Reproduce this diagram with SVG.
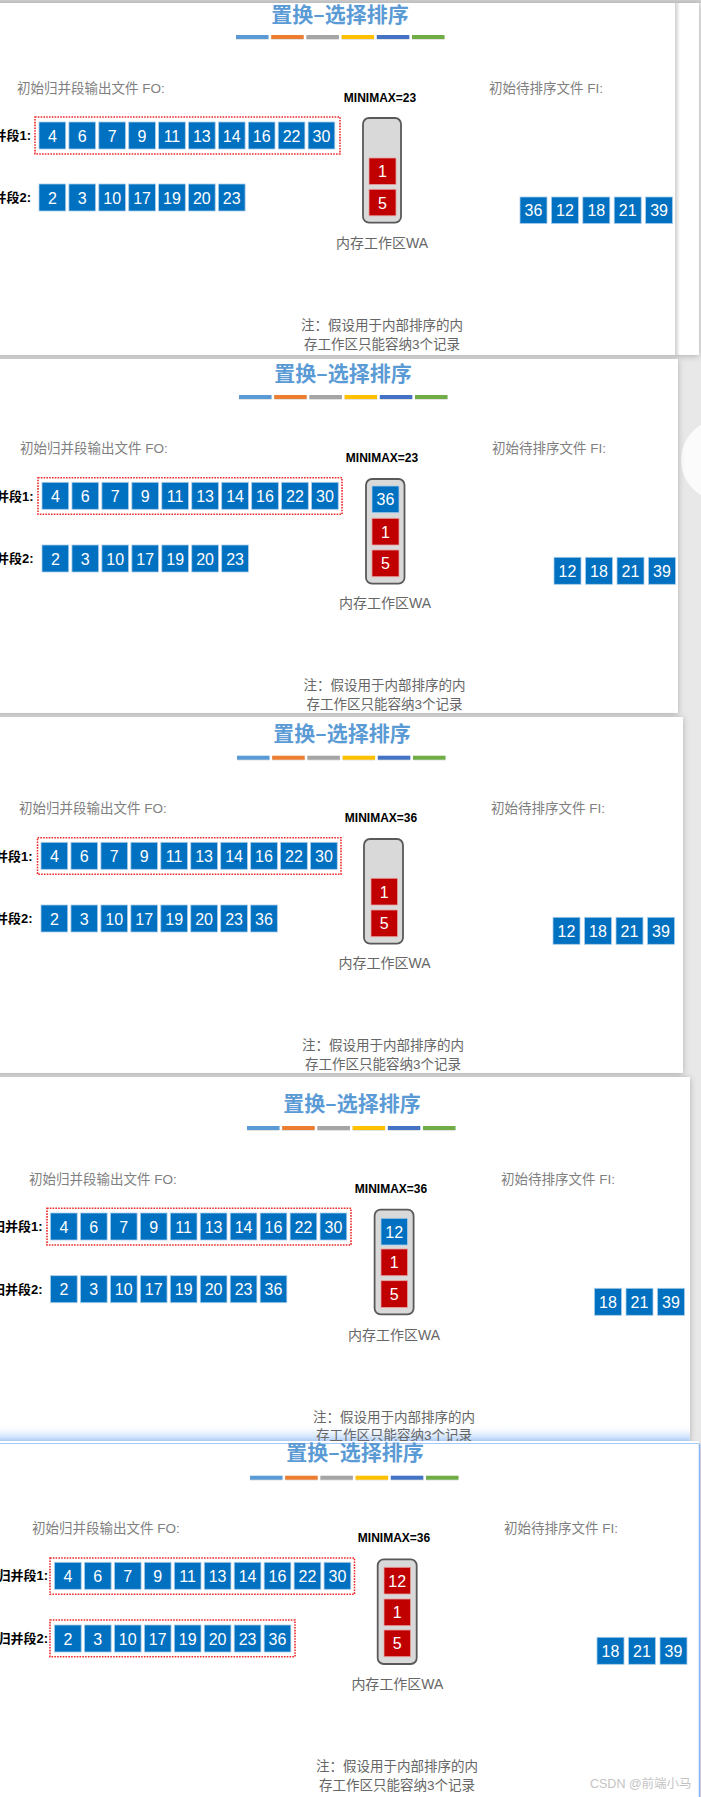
<svg xmlns="http://www.w3.org/2000/svg" width="701" height="1797" viewBox="0 0 701 1797">
<style>
.pnl{fill:#ffffff;filter:url(#sh)}
.t{font-family:"Noto Sans CJK SC","Noto Sans",sans-serif;font-weight:700;font-size:21px;fill:#5b9bd5;text-anchor:middle}
.g{font-family:"Liberation Sans","Noto Sans CJK SC",sans-serif;font-size:13.5px;fill:#7f7f7f}
.gc{font-family:"Liberation Sans","Noto Sans CJK SC",sans-serif;font-size:13.5px;fill:#666666;text-anchor:middle}
.mm{font-family:"Liberation Sans",sans-serif;font-weight:700;font-size:12px;fill:#000;text-anchor:middle}
.lab{font-family:"Liberation Sans","Noto Sans CJK SC",sans-serif;font-weight:700;font-size:13px;fill:#000;text-anchor:end}
.b{fill:#0070c0;stroke:#a9cdea;stroke-width:0.8}
.r{fill:#c00000;stroke:#e8a0a0;stroke-width:0.8}
.n{font-family:"Liberation Sans",sans-serif;font-size:16px;fill:#fff;text-anchor:middle}
.dot{fill:none;stroke:#ee2a2a;stroke-width:1.6;stroke-dasharray:1.6 1.2}
.wa{fill:#d9d9d9;stroke:#595959;stroke-width:1.8}
.wm{font-family:"Liberation Sans","Noto Sans CJK SC",sans-serif;font-size:12.5px;fill:#c4c4c4}
</style>
<defs>
<filter id="sh" x="-5%" y="-5%" width="110%" height="110%"><feDropShadow dx="0" dy="1" stdDeviation="3" flood-color="#000" flood-opacity="0.25"/></filter>
<linearGradient id="blueband" x1="0" y1="0" x2="0" y2="1"><stop offset="0" stop-color="#ffffff" stop-opacity="0"/><stop offset="1" stop-color="#9ec4fa"/></linearGradient>
<linearGradient id="vsh" x1="0" y1="0" x2="1" y2="0"><stop offset="0" stop-color="#cfcfcf"/><stop offset="1" stop-color="#ffffff"/></linearGradient>
<g id="bars">
<rect x="0" y="0.8" width="32.5" height="4" fill="#bbbbbb" opacity="0.5"/><rect x="0" y="0" width="32.5" height="4" fill="#5b9bd5"/>
<rect x="35.2" y="0.8" width="32.5" height="4" fill="#bbbbbb" opacity="0.5"/><rect x="35.2" y="0" width="32.5" height="4" fill="#ed7d31"/>
<rect x="70.4" y="0.8" width="32.5" height="4" fill="#bbbbbb" opacity="0.5"/><rect x="70.4" y="0" width="32.5" height="4" fill="#a5a5a5"/>
<rect x="105.6" y="0.8" width="32.5" height="4" fill="#bbbbbb" opacity="0.5"/><rect x="105.6" y="0" width="32.5" height="4" fill="#ffc000"/>
<rect x="140.8" y="0.8" width="32.5" height="4" fill="#bbbbbb" opacity="0.5"/><rect x="140.8" y="0" width="32.5" height="4" fill="#4472c4"/>
<rect x="176" y="0.8" width="32.5" height="4" fill="#bbbbbb" opacity="0.5"/><rect x="176" y="0" width="32.5" height="4" fill="#70ad47"/>
</g>
</defs>
<rect width="701" height="1797" fill="#e8e8e8"/>
<circle cx="722" cy="460" r="41" fill="#fbfbfb"/>
<!-- panel backgrounds -->
<rect x="0" y="0" width="701" height="3" fill="#cfcfcf"/>
<rect class="pnl" x="-10" y="3" width="709" height="352"/>
<rect x="675" y="3" width="5" height="352" fill="url(#vsh)"/>
<rect class="pnl" x="-10" y="359" width="688" height="354"/>
<rect class="pnl" x="-10" y="717" width="693" height="356"/>
<rect class="pnl" x="-10" y="1077" width="700" height="364"/>
<rect x="0" y="1424" width="690" height="19" fill="url(#blueband)"/>
<rect class="pnl" x="-10" y="1444" width="709" height="360"/>
<line x1="699.5" y1="1444" x2="699.5" y2="1797" stroke="#8ab4f8" stroke-width="1.5"/>

<!-- ================= PANEL 1 ================= -->
<g id="panel1">
<text class="t" x="340" y="22">置换–选择排序</text>
<use href="#bars" x="236" y="35"/>
<text class="g" x="17" y="93">初始归并段输出文件 FO:</text>
<text class="g" x="489" y="93">初始待排序文件 FI:</text>
<text class="mm" x="380" y="102">MINIMAX=23</text>
<text class="lab" x="31" y="140">归并段1:</text>
<text class="lab" x="31" y="202">归并段2:</text>
<rect class="dot" x="35" y="117" width="305" height="37"/>
<g id="p1r1">
<g id="p1a1" transform="translate(39,122)"><rect class="b" width="26.7" height="27"/><text class="n" x="13.35" y="19.5">4</text></g>
<g id="p1a2" transform="translate(68.9,122)"><rect class="b" width="26.7" height="27"/><text class="n" x="13.35" y="19.5">6</text></g>
<g id="p1a3" transform="translate(98.8,122)"><rect class="b" width="26.7" height="27"/><text class="n" x="13.35" y="19.5">7</text></g>
<g id="p1a4" transform="translate(128.7,122)"><rect class="b" width="26.7" height="27"/><text class="n" x="13.35" y="19.5">9</text></g>
<g id="p1a5" transform="translate(158.6,122)"><rect class="b" width="26.7" height="27"/><text class="n" x="13.35" y="19.5">11</text></g>
<g id="p1a6" transform="translate(188.5,122)"><rect class="b" width="26.7" height="27"/><text class="n" x="13.35" y="19.5">13</text></g>
<g id="p1a7" transform="translate(218.4,122)"><rect class="b" width="26.7" height="27"/><text class="n" x="13.35" y="19.5">14</text></g>
<g id="p1a8" transform="translate(248.3,122)"><rect class="b" width="26.7" height="27"/><text class="n" x="13.35" y="19.5">16</text></g>
<g id="p1a9" transform="translate(278.2,122)"><rect class="b" width="26.7" height="27"/><text class="n" x="13.35" y="19.5">22</text></g>
<g id="p1a10" transform="translate(308.1,122)"><rect class="b" width="26.7" height="27"/><text class="n" x="13.35" y="19.5">30</text></g>
</g>
<g id="p1r2">
<g id="p1b1" transform="translate(39,184)"><rect class="b" width="26.7" height="27"/><text class="n" x="13.35" y="19.5">2</text></g>
<g id="p1b2" transform="translate(68.9,184)"><rect class="b" width="26.7" height="27"/><text class="n" x="13.35" y="19.5">3</text></g>
<g id="p1b3" transform="translate(98.8,184)"><rect class="b" width="26.7" height="27"/><text class="n" x="13.35" y="19.5">10</text></g>
<g id="p1b4" transform="translate(128.7,184)"><rect class="b" width="26.7" height="27"/><text class="n" x="13.35" y="19.5">17</text></g>
<g id="p1b5" transform="translate(158.6,184)"><rect class="b" width="26.7" height="27"/><text class="n" x="13.35" y="19.5">19</text></g>
<g id="p1b6" transform="translate(188.5,184)"><rect class="b" width="26.7" height="27"/><text class="n" x="13.35" y="19.5">20</text></g>
<g id="p1b7" transform="translate(218.4,184)"><rect class="b" width="26.7" height="27"/><text class="n" x="13.35" y="19.5">23</text></g>
</g>
<g id="p1wa">
<rect class="wa" x="363" y="118" width="38" height="104.7" rx="6"/>
<g id="p1w2" transform="translate(369,158)"><rect class="r" width="27" height="26.5"/><text class="n" x="13.5" y="19.3">1</text></g>
<g id="p1w3" transform="translate(369,189.3)"><rect class="r" width="27" height="26.5"/><text class="n" x="13.5" y="19.3">5</text></g>
</g>
<text class="gc" x="382" y="248" style="font-size:14px">内存工作区WA</text>
<g id="p1fi">
<g id="p1f1" transform="translate(520,197)"><rect class="b" width="27" height="26.5"/><text class="n" x="13.5" y="19.3">36</text></g>
<g id="p1f2" transform="translate(551.4,197)"><rect class="b" width="27" height="26.5"/><text class="n" x="13.5" y="19.3">12</text></g>
<g id="p1f3" transform="translate(582.8,197)"><rect class="b" width="27" height="26.5"/><text class="n" x="13.5" y="19.3">18</text></g>
<g id="p1f4" transform="translate(614.2,197)"><rect class="b" width="27" height="26.5"/><text class="n" x="13.5" y="19.3">21</text></g>
<g id="p1f5" transform="translate(645.6,197)"><rect class="b" width="27" height="26.5"/><text class="n" x="13.5" y="19.3">39</text></g>
</g>
<text class="gc" x="382" y="330">注：假设用于内部排序的内</text>
<text class="gc" x="382" y="349">存工作区只能容纳3个记录</text>
</g>

<!-- ================= PANEL 2 ================= -->
<g id="panel2">
<text class="t" x="343" y="381">置换–选择排序</text>
<use href="#bars" x="239" y="395"/>
<text class="g" x="20" y="453">初始归并段输出文件 FO:</text>
<text class="g" x="492" y="453">初始待排序文件 FI:</text>
<text class="mm" x="382" y="462">MINIMAX=23</text>
<text class="lab" x="33.5" y="500.5">归并段1:</text>
<text class="lab" x="33.5" y="563">归并段2:</text>
<rect class="dot" x="38" y="477.7" width="304" height="36.6"/>
<g id="p2r1">
<g id="p2a1" transform="translate(42,482.3)"><rect class="b" width="26.7" height="27"/><text class="n" x="13.35" y="19.5">4</text></g>
<g id="p2a2" transform="translate(71.95,482.3)"><rect class="b" width="26.7" height="27"/><text class="n" x="13.35" y="19.5">6</text></g>
<g id="p2a3" transform="translate(101.9,482.3)"><rect class="b" width="26.7" height="27"/><text class="n" x="13.35" y="19.5">7</text></g>
<g id="p2a4" transform="translate(131.85,482.3)"><rect class="b" width="26.7" height="27"/><text class="n" x="13.35" y="19.5">9</text></g>
<g id="p2a5" transform="translate(161.8,482.3)"><rect class="b" width="26.7" height="27"/><text class="n" x="13.35" y="19.5">11</text></g>
<g id="p2a6" transform="translate(191.75,482.3)"><rect class="b" width="26.7" height="27"/><text class="n" x="13.35" y="19.5">13</text></g>
<g id="p2a7" transform="translate(221.7,482.3)"><rect class="b" width="26.7" height="27"/><text class="n" x="13.35" y="19.5">14</text></g>
<g id="p2a8" transform="translate(251.65,482.3)"><rect class="b" width="26.7" height="27"/><text class="n" x="13.35" y="19.5">16</text></g>
<g id="p2a9" transform="translate(281.6,482.3)"><rect class="b" width="26.7" height="27"/><text class="n" x="13.35" y="19.5">22</text></g>
<g id="p2a10" transform="translate(311.55,482.3)"><rect class="b" width="26.7" height="27"/><text class="n" x="13.35" y="19.5">30</text></g>
</g>
<g id="p2r2">
<g id="p2b1" transform="translate(42,545)"><rect class="b" width="26.7" height="27"/><text class="n" x="13.35" y="19.5">2</text></g>
<g id="p2b2" transform="translate(71.95,545)"><rect class="b" width="26.7" height="27"/><text class="n" x="13.35" y="19.5">3</text></g>
<g id="p2b3" transform="translate(101.9,545)"><rect class="b" width="26.7" height="27"/><text class="n" x="13.35" y="19.5">10</text></g>
<g id="p2b4" transform="translate(131.85,545)"><rect class="b" width="26.7" height="27"/><text class="n" x="13.35" y="19.5">17</text></g>
<g id="p2b5" transform="translate(161.8,545)"><rect class="b" width="26.7" height="27"/><text class="n" x="13.35" y="19.5">19</text></g>
<g id="p2b6" transform="translate(191.75,545)"><rect class="b" width="26.7" height="27"/><text class="n" x="13.35" y="19.5">20</text></g>
<g id="p2b7" transform="translate(221.7,545)"><rect class="b" width="26.7" height="27"/><text class="n" x="13.35" y="19.5">23</text></g>
</g>
<g id="p2wa">
<rect class="wa" x="366" y="479" width="38.5" height="104.7" rx="6"/>
<g id="p2w1" transform="translate(372,486)"><rect class="b" width="27" height="26.7"/><text class="n" x="13.5" y="19.3">36</text></g>
<g id="p2w2" transform="translate(372,518.3)"><rect class="r" width="27" height="26.7"/><text class="n" x="13.5" y="19.3">1</text></g>
<g id="p2w3" transform="translate(372,550)"><rect class="r" width="27" height="26.7"/><text class="n" x="13.5" y="19.3">5</text></g>
</g>
<text class="gc" x="385" y="608" style="font-size:14px">内存工作区WA</text>
<g id="p2fi">
<g id="p2f1" transform="translate(554,557.3)"><rect class="b" width="27" height="27"/><text class="n" x="13.5" y="19.5">12</text></g>
<g id="p2f2" transform="translate(585.5,557.3)"><rect class="b" width="27" height="27"/><text class="n" x="13.5" y="19.5">18</text></g>
<g id="p2f3" transform="translate(617,557.3)"><rect class="b" width="27" height="27"/><text class="n" x="13.5" y="19.5">21</text></g>
<g id="p2f4" transform="translate(648.5,557.3)"><rect class="b" width="27" height="27"/><text class="n" x="13.5" y="19.5">39</text></g>
</g>
<text class="gc" x="384.5" y="690">注：假设用于内部排序的内</text>
<text class="gc" x="384.5" y="709">存工作区只能容纳3个记录</text>
</g>

<!-- ================= PANEL 3 ================= -->
<g id="panel3">
<text class="t" x="342" y="741">置换–选择排序</text>
<use href="#bars" x="237" y="755.7"/>
<text class="g" x="19" y="813">初始归并段输出文件 FO:</text>
<text class="g" x="491" y="813">初始待排序文件 FI:</text>
<text class="mm" x="381" y="821.7">MINIMAX=36</text>
<text class="lab" x="32.6" y="860.5">归并段1:</text>
<text class="lab" x="32.6" y="923">归并段2:</text>
<rect class="dot" x="37.5" y="837.7" width="303.5" height="36.6"/>
<g id="p3r1">
<g id="p3a1" transform="translate(41,842.3)"><rect class="b" width="26.7" height="27"/><text class="n" x="13.35" y="19.5">4</text></g>
<g id="p3a2" transform="translate(70.95,842.3)"><rect class="b" width="26.7" height="27"/><text class="n" x="13.35" y="19.5">6</text></g>
<g id="p3a3" transform="translate(100.9,842.3)"><rect class="b" width="26.7" height="27"/><text class="n" x="13.35" y="19.5">7</text></g>
<g id="p3a4" transform="translate(130.85,842.3)"><rect class="b" width="26.7" height="27"/><text class="n" x="13.35" y="19.5">9</text></g>
<g id="p3a5" transform="translate(160.8,842.3)"><rect class="b" width="26.7" height="27"/><text class="n" x="13.35" y="19.5">11</text></g>
<g id="p3a6" transform="translate(190.75,842.3)"><rect class="b" width="26.7" height="27"/><text class="n" x="13.35" y="19.5">13</text></g>
<g id="p3a7" transform="translate(220.7,842.3)"><rect class="b" width="26.7" height="27"/><text class="n" x="13.35" y="19.5">14</text></g>
<g id="p3a8" transform="translate(250.65,842.3)"><rect class="b" width="26.7" height="27"/><text class="n" x="13.35" y="19.5">16</text></g>
<g id="p3a9" transform="translate(280.6,842.3)"><rect class="b" width="26.7" height="27"/><text class="n" x="13.35" y="19.5">22</text></g>
<g id="p3a10" transform="translate(310.55,842.3)"><rect class="b" width="26.7" height="27"/><text class="n" x="13.35" y="19.5">30</text></g>
</g>
<g id="p3r2">
<g id="p3b1" transform="translate(41,905)"><rect class="b" width="26.7" height="27"/><text class="n" x="13.35" y="19.5">2</text></g>
<g id="p3b2" transform="translate(70.95,905)"><rect class="b" width="26.7" height="27"/><text class="n" x="13.35" y="19.5">3</text></g>
<g id="p3b3" transform="translate(100.9,905)"><rect class="b" width="26.7" height="27"/><text class="n" x="13.35" y="19.5">10</text></g>
<g id="p3b4" transform="translate(130.85,905)"><rect class="b" width="26.7" height="27"/><text class="n" x="13.35" y="19.5">17</text></g>
<g id="p3b5" transform="translate(160.8,905)"><rect class="b" width="26.7" height="27"/><text class="n" x="13.35" y="19.5">19</text></g>
<g id="p3b6" transform="translate(190.75,905)"><rect class="b" width="26.7" height="27"/><text class="n" x="13.35" y="19.5">20</text></g>
<g id="p3b7" transform="translate(220.7,905)"><rect class="b" width="26.7" height="27"/><text class="n" x="13.35" y="19.5">23</text></g>
<g id="p3b8" transform="translate(250.65,905)"><rect class="b" width="26.7" height="27"/><text class="n" x="13.35" y="19.5">36</text></g>
</g>
<g id="p3wa">
<rect class="wa" x="364" y="839" width="39" height="104.7" rx="6"/>
<g id="p3w2" transform="translate(371,878.3)"><rect class="r" width="26.5" height="26.7"/><text class="n" x="13.25" y="19.3">1</text></g>
<g id="p3w3" transform="translate(371,910)"><rect class="r" width="26.5" height="26.7"/><text class="n" x="13.25" y="19.3">5</text></g>
</g>
<text class="gc" x="384.5" y="968" style="font-size:14px">内存工作区WA</text>
<g id="p3fi">
<g id="p3f1" transform="translate(553,917.3)"><rect class="b" width="27" height="27"/><text class="n" x="13.5" y="19.5">12</text></g>
<g id="p3f2" transform="translate(584.5,917.3)"><rect class="b" width="27" height="27"/><text class="n" x="13.5" y="19.5">18</text></g>
<g id="p3f3" transform="translate(616,917.3)"><rect class="b" width="27" height="27"/><text class="n" x="13.5" y="19.5">21</text></g>
<g id="p3f4" transform="translate(647.5,917.3)"><rect class="b" width="27" height="27"/><text class="n" x="13.5" y="19.5">39</text></g>
</g>
<text class="gc" x="383" y="1050">注：假设用于内部排序的内</text>
<text class="gc" x="383" y="1069">存工作区只能容纳3个记录</text>
</g>

<!-- ================= PANEL 4 ================= -->
<g id="panel4">
<text class="t" x="352" y="1111">置换–选择排序</text>
<use href="#bars" x="247" y="1126"/>
<text class="g" x="29" y="1184">初始归并段输出文件 FO:</text>
<text class="g" x="501" y="1184">初始待排序文件 FI:</text>
<text class="mm" x="391" y="1192.7">MINIMAX=36</text>
<text class="lab" x="42.5" y="1231">归并段1:</text>
<text class="lab" x="42.5" y="1293.7">归并段2:</text>
<rect class="dot" x="47" y="1208.3" width="304" height="36.7"/>
<g id="p4r1">
<g id="p4a1" transform="translate(50.5,1213)"><rect class="b" width="26.7" height="27"/><text class="n" x="13.35" y="19.5">4</text></g>
<g id="p4a2" transform="translate(80.45,1213)"><rect class="b" width="26.7" height="27"/><text class="n" x="13.35" y="19.5">6</text></g>
<g id="p4a3" transform="translate(110.4,1213)"><rect class="b" width="26.7" height="27"/><text class="n" x="13.35" y="19.5">7</text></g>
<g id="p4a4" transform="translate(140.35,1213)"><rect class="b" width="26.7" height="27"/><text class="n" x="13.35" y="19.5">9</text></g>
<g id="p4a5" transform="translate(170.3,1213)"><rect class="b" width="26.7" height="27"/><text class="n" x="13.35" y="19.5">11</text></g>
<g id="p4a6" transform="translate(200.25,1213)"><rect class="b" width="26.7" height="27"/><text class="n" x="13.35" y="19.5">13</text></g>
<g id="p4a7" transform="translate(230.2,1213)"><rect class="b" width="26.7" height="27"/><text class="n" x="13.35" y="19.5">14</text></g>
<g id="p4a8" transform="translate(260.15,1213)"><rect class="b" width="26.7" height="27"/><text class="n" x="13.35" y="19.5">16</text></g>
<g id="p4a9" transform="translate(290.1,1213)"><rect class="b" width="26.7" height="27"/><text class="n" x="13.35" y="19.5">22</text></g>
<g id="p4a10" transform="translate(320.05,1213)"><rect class="b" width="26.7" height="27"/><text class="n" x="13.35" y="19.5">30</text></g>
</g>
<g id="p4r2">
<g id="p4b1" transform="translate(50.5,1275.7)"><rect class="b" width="26.7" height="27"/><text class="n" x="13.35" y="19.5">2</text></g>
<g id="p4b2" transform="translate(80.45,1275.7)"><rect class="b" width="26.7" height="27"/><text class="n" x="13.35" y="19.5">3</text></g>
<g id="p4b3" transform="translate(110.4,1275.7)"><rect class="b" width="26.7" height="27"/><text class="n" x="13.35" y="19.5">10</text></g>
<g id="p4b4" transform="translate(140.35,1275.7)"><rect class="b" width="26.7" height="27"/><text class="n" x="13.35" y="19.5">17</text></g>
<g id="p4b5" transform="translate(170.3,1275.7)"><rect class="b" width="26.7" height="27"/><text class="n" x="13.35" y="19.5">19</text></g>
<g id="p4b6" transform="translate(200.25,1275.7)"><rect class="b" width="26.7" height="27"/><text class="n" x="13.35" y="19.5">20</text></g>
<g id="p4b7" transform="translate(230.2,1275.7)"><rect class="b" width="26.7" height="27"/><text class="n" x="13.35" y="19.5">23</text></g>
<g id="p4b8" transform="translate(260.15,1275.7)"><rect class="b" width="26.7" height="27"/><text class="n" x="13.35" y="19.5">36</text></g>
</g>
<g id="p4wa">
<rect class="wa" x="374.6" y="1209.7" width="39" height="104.6" rx="6"/>
<g id="p4w1" transform="translate(381,1218.3)"><rect class="b" width="26.5" height="26.7"/><text class="n" x="13.25" y="19.3">12</text></g>
<g id="p4w2" transform="translate(381,1249)"><rect class="r" width="26.5" height="26.7"/><text class="n" x="13.25" y="19.3">1</text></g>
<g id="p4w3" transform="translate(381,1280.7)"><rect class="r" width="26.5" height="26.7"/><text class="n" x="13.25" y="19.3">5</text></g>
</g>
<text class="gc" x="394" y="1340" style="font-size:14px">内存工作区WA</text>
<g id="p4fi">
<g id="p4f1" transform="translate(594.5,1288.3)"><rect class="b" width="27" height="27"/><text class="n" x="13.5" y="19.5">18</text></g>
<g id="p4f2" transform="translate(626,1288.3)"><rect class="b" width="27" height="27"/><text class="n" x="13.5" y="19.5">21</text></g>
<g id="p4f3" transform="translate(657.5,1288.3)"><rect class="b" width="27" height="27"/><text class="n" x="13.5" y="19.5">39</text></g>
</g>
<text class="gc" x="394" y="1421.7">注：假设用于内部排序的内</text>
<text class="gc" x="394" y="1440">存工作区只能容纳3个记录</text>
</g>
<rect x="0" y="1441" width="699" height="3" fill="#ffffff"/>
<line x1="0" y1="1443.5" x2="699" y2="1443.5" stroke="#a6c8fa" stroke-width="1"/>

<!-- ================= PANEL 5 ================= -->
<g id="panel5">
<text class="t" x="355" y="1460">置换–选择排序</text>
<use href="#bars" x="250" y="1475.7"/>
<text class="g" x="32" y="1533">初始归并段输出文件 FO:</text>
<text class="g" x="504" y="1533">初始待排序文件 FI:</text>
<text class="mm" x="394" y="1541.7">MINIMAX=36</text>
<text class="lab" x="48" y="1580.3">归并段1:</text>
<text class="lab" x="48" y="1643">归并段2:</text>
<rect class="dot" x="50" y="1558" width="304.5" height="36.3"/>
<rect class="dot" x="50" y="1620" width="245" height="36.7"/>
<g id="p5r1">
<g id="p5a1" transform="translate(54.5,1562.3)"><rect class="b" width="26.7" height="27"/><text class="n" x="13.35" y="19.5">4</text></g>
<g id="p5a2" transform="translate(84.45,1562.3)"><rect class="b" width="26.7" height="27"/><text class="n" x="13.35" y="19.5">6</text></g>
<g id="p5a3" transform="translate(114.4,1562.3)"><rect class="b" width="26.7" height="27"/><text class="n" x="13.35" y="19.5">7</text></g>
<g id="p5a4" transform="translate(144.35,1562.3)"><rect class="b" width="26.7" height="27"/><text class="n" x="13.35" y="19.5">9</text></g>
<g id="p5a5" transform="translate(174.3,1562.3)"><rect class="b" width="26.7" height="27"/><text class="n" x="13.35" y="19.5">11</text></g>
<g id="p5a6" transform="translate(204.25,1562.3)"><rect class="b" width="26.7" height="27"/><text class="n" x="13.35" y="19.5">13</text></g>
<g id="p5a7" transform="translate(234.2,1562.3)"><rect class="b" width="26.7" height="27"/><text class="n" x="13.35" y="19.5">14</text></g>
<g id="p5a8" transform="translate(264.15,1562.3)"><rect class="b" width="26.7" height="27"/><text class="n" x="13.35" y="19.5">16</text></g>
<g id="p5a9" transform="translate(294.1,1562.3)"><rect class="b" width="26.7" height="27"/><text class="n" x="13.35" y="19.5">22</text></g>
<g id="p5a10" transform="translate(324.05,1562.3)"><rect class="b" width="26.7" height="27"/><text class="n" x="13.35" y="19.5">30</text></g>
</g>
<g id="p5r2">
<g id="p5b1" transform="translate(54.5,1625)"><rect class="b" width="26.7" height="27"/><text class="n" x="13.35" y="19.5">2</text></g>
<g id="p5b2" transform="translate(84.45,1625)"><rect class="b" width="26.7" height="27"/><text class="n" x="13.35" y="19.5">3</text></g>
<g id="p5b3" transform="translate(114.4,1625)"><rect class="b" width="26.7" height="27"/><text class="n" x="13.35" y="19.5">10</text></g>
<g id="p5b4" transform="translate(144.35,1625)"><rect class="b" width="26.7" height="27"/><text class="n" x="13.35" y="19.5">17</text></g>
<g id="p5b5" transform="translate(174.3,1625)"><rect class="b" width="26.7" height="27"/><text class="n" x="13.35" y="19.5">19</text></g>
<g id="p5b6" transform="translate(204.25,1625)"><rect class="b" width="26.7" height="27"/><text class="n" x="13.35" y="19.5">20</text></g>
<g id="p5b7" transform="translate(234.2,1625)"><rect class="b" width="26.7" height="27"/><text class="n" x="13.35" y="19.5">23</text></g>
<g id="p5b8" transform="translate(264.15,1625)"><rect class="b" width="26.7" height="27"/><text class="n" x="13.35" y="19.5">36</text></g>
</g>
<g id="p5wa">
<rect class="wa" x="377.7" y="1559.3" width="39" height="104.7" rx="6"/>
<g id="p5w1" transform="translate(384,1567.3)"><rect class="r" width="26.5" height="26.7"/><text class="n" x="13.25" y="19.3">12</text></g>
<g id="p5w2" transform="translate(384,1599)"><rect class="r" width="26.5" height="26.7"/><text class="n" x="13.25" y="19.3">1</text></g>
<g id="p5w3" transform="translate(384,1630)"><rect class="r" width="26.5" height="26.7"/><text class="n" x="13.25" y="19.3">5</text></g>
</g>
<text class="gc" x="397.4" y="1689" style="font-size:14px">内存工作区WA</text>
<g id="p5fi">
<g id="p5f1" transform="translate(597,1637.3)"><rect class="b" width="27" height="27"/><text class="n" x="13.5" y="19.5">18</text></g>
<g id="p5f2" transform="translate(628.5,1637.3)"><rect class="b" width="27" height="27"/><text class="n" x="13.5" y="19.5">21</text></g>
<g id="p5f3" transform="translate(660,1637.3)"><rect class="b" width="27" height="27"/><text class="n" x="13.5" y="19.5">39</text></g>
</g>
<text class="gc" x="397" y="1771">注：假设用于内部排序的内</text>
<text class="gc" x="397" y="1790">存工作区只能容纳3个记录</text>
<text class="wm" x="590" y="1788">CSDN @前端小马</text>
</g>
</svg>
